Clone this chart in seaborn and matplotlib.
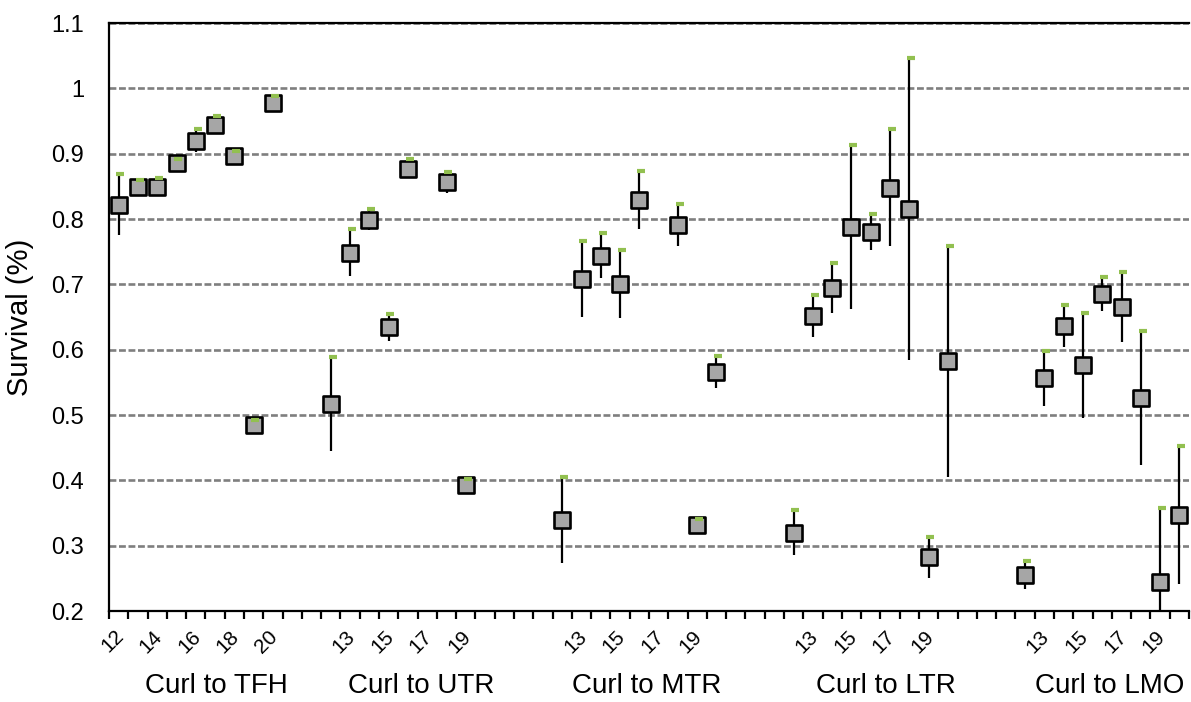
import numpy as np
import pandas as pd
import matplotlib
matplotlib.use("Agg")
import matplotlib.pyplot as plt
from matplotlib.transforms import ScaledTranslation, blended_transform_factory
import seaborn as sns

# ---- data -------------------------------------------------------------
years = [12, 13, 14, 15, 16, 17, 18, 19, 20]
groups = ["Curl to TFH", "Curl to UTR", "Curl to MTR", "Curl to LTR", "Curl to LMO"]

# mean survival and half-width of the interval, per year (nan = no estimate)
tfh_mean = [0.822, 0.849, 0.849, 0.886, 0.920, 0.944, 0.896, 0.485, 0.978]
tfh_err = [0.047, 0.011, 0.013, 0.006, 0.018, 0.013, 0.008, 0.007, 0.011]

utr_mean = [0.517, 0.748, 0.799, 0.634, 0.877, np.nan, 0.856, 0.393, np.nan]
utr_err = [0.072, 0.036, 0.016, 0.020, 0.015, np.nan, 0.016, 0.009, np.nan]

mtr_mean = [0.339, 0.708, 0.744, 0.701, 0.829, np.nan, 0.791, 0.331, 0.566]
mtr_err = [0.066, 0.058, 0.035, 0.052, 0.045, np.nan, 0.032, 0.010, 0.025]

ltr_mean = [0.320, 0.651, 0.694, 0.788, 0.780, 0.848, 0.815, 0.282, 0.582]
ltr_err = [0.034, 0.032, 0.038, 0.126, 0.028, 0.090, 0.231, 0.032, 0.177]

lmo_mean = [0.255, 0.556, 0.636, 0.576, 0.685, 0.665, 0.526, 0.245, 0.347]
lmo_err = [0.022, 0.042, 0.032, 0.080, 0.026, 0.054, 0.102, 0.113, 0.106]

y_ticks = [0.2, 0.3, 0.4, 0.5, 0.6, 0.7, 0.8, 0.9, 1.0, 1.1]
y_tick_labels = ["0.2", "0.3", "0.4", "0.5", "0.6", "0.7", "0.8", "0.9", "1", "1.1"]

# ---- layout of the category axis ---------------------------------------
group_start = [0, 11, 23, 35, 47]      # first slot of each group
n_slots = 56
group_label_x = [5.08, 15.7, 27.4, 39.8, 51.4]

means = [tfh_mean, utr_mean, mtr_mean, ltr_mean, lmo_mean]
errs = [tfh_err, utr_err, mtr_err, ltr_err, lmo_err]

rows = []
for g, start, m, e in zip(groups, group_start, means, errs):
    for i, (yr, mv, ev) in enumerate(zip(years, m, e)):
        rows.append({"group": g, "year": yr, "slot": start + i,
                     "survival": mv, "err": ev})
df = pd.DataFrame(rows)
df["low"] = df["survival"] - df["err"]
df["high"] = df["survival"] + df["err"]
pts = df.dropna(subset=["survival"])

# slot -> tick text (every second slot carries a label)
slot_text = {}
for start in group_start:
    for i, yr in enumerate(years):
        slot_text[start + i] = str(yr)
label_slots = list(range(0, n_slots, 2))
label_texts = [slot_text.get(s, "") for s in label_slots]

# ---- figure -------------------------------------------------------------
sns.set_theme(style="white")
plt.rcParams["font.family"] = ["Liberation Sans", "DejaVu Sans"]

fig, ax = plt.subplots(figsize=(11.91, 7.02), dpi=100)
fig.subplots_adjust(left=109 / 1191, right=1189 / 1191,
                    top=1 - 23 / 702, bottom=1 - 611 / 702)

ax.set_xlim(-0.5, n_slots - 0.5)
ax.set_ylim(0.2, 1.1)

# dashed horizontal gridlines
ax.yaxis.grid(True, color="#7F7F7F", linewidth=1.9, linestyle=(0, (2.6, 1.0)))
ax.set_axisbelow(True)

# interval lines
ax.vlines(pts["slot"], pts["low"], pts["high"], color="black",
          linewidth=1.6, zorder=2)

# square markers for the means
sns.scatterplot(data=pts, x="slot", y="survival", marker="s", s=132,
                color="#A6A6A6", edgecolor="black", linewidth=1.9,
                zorder=3, ax=ax, legend=False)

# green marks at the upper end of each interval
ax.plot(pts["slot"] + 0.09, pts["high"], linestyle="none", marker="_",
        markersize=5.5, markeredgewidth=3.0, color="#92C050", zorder=4,
        clip_on=False)

# axes frame
for side in ["left", "top", "bottom"]:
    ax.spines[side].set_visible(True)
    ax.spines[side].set_color("black")
    ax.spines[side].set_linewidth(1.6)
ax.spines["right"].set_visible(False)

# y axis
ax.set_yticks(y_ticks)
ax.set_yticklabels(y_tick_labels, fontsize=17, color="black")
ax.tick_params(axis="y", length=0, pad=18)
ax.set_ylabel("Survival (%)", fontsize=21, color="black", labelpad=12)

# x axis: tick marks at slot boundaries, labels on every second slot
ax.set_xticks(np.arange(-0.5, n_slots, 1.0), minor=True)
ax.tick_params(axis="x", which="minor", length=6, width=1.6,
               color="black", direction="out", bottom=True)
ax.set_xticks(label_slots)
ax.set_xticklabels(label_texts, fontsize=15, rotation=45, ha="right",
                   va="center", rotation_mode="anchor", color="black")
ax.tick_params(axis="x", which="major", length=0, pad=16)
offset = ScaledTranslation(2 / 100, 0, fig.dpi_scale_trans)
for lab in ax.get_xticklabels():
    lab.set_transform(lab.get_transform() + offset)
ax.set_xlabel("")

# group names under the year labels
trans = blended_transform_factory(ax.transData, ax.transAxes)
for name, gx in zip(groups, group_label_x):
    ax.text(gx, -75 / 588, name, transform=trans, ha="center", va="center",
            fontsize=20, color="black")

fig.savefig("out.png", dpi=100)
